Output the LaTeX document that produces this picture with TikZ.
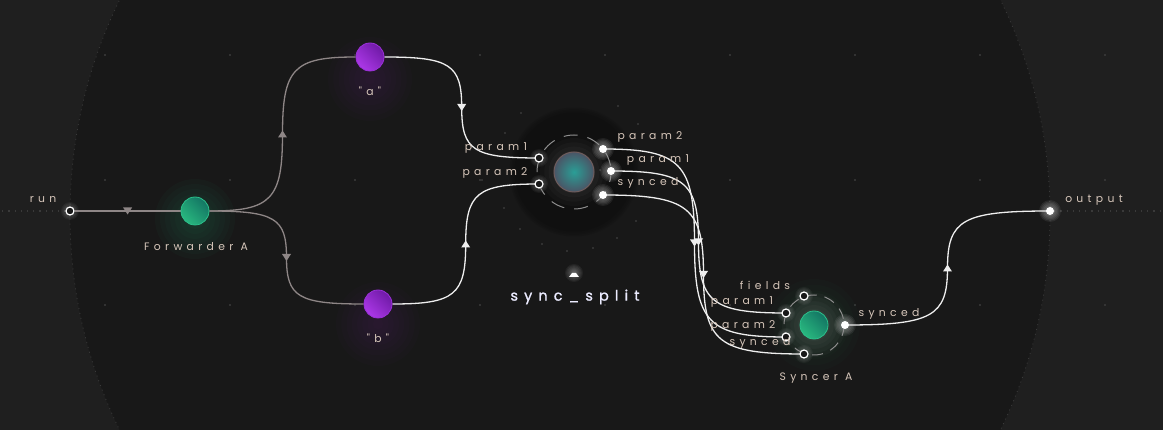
\documentclass[tikz,border=0pt]{standalone}
\usepackage{fontspec}
\setmainfont{Poppins}
\newfontfamily\lblfont[LetterSpace=40]{Poppins}
\newfontfamily\ttlfont[LetterSpace=42,FakeBold=1.2]{Poppins}
\usetikzlibrary{calc}
\pgfdeclarelayer{back}
\pgfdeclarelayer{wires}
\pgfsetlayers{back,wires,main}
\definecolor{bgout}{HTML}{1F1F1F}
\definecolor{bgin}{HTML}{181818}
\definecolor{dotc}{HTML}{3A3A3A}
\definecolor{gridc}{HTML}{3C3C3C}
\definecolor{wgray}{HTML}{8E8686}
\definecolor{wwhite}{HTML}{EEEEEE}
\definecolor{lblc}{HTML}{D6C6BA}
\definecolor{ringc}{HTML}{8E8E8E}
\definecolor{tealA}{HTML}{137563}
\definecolor{tealB}{HTML}{29B87F}
\definecolor{tealE}{HTML}{2CC08B}
\definecolor{purA}{HTML}{6F1AA6}
\definecolor{purB}{HTML}{AC38E8}
\definecolor{purE}{HTML}{9B30D9}
\definecolor{halo}{HTML}{101010}
\definecolor{sparkc}{HTML}{4A4A4A}
\definecolor{sphin}{HTML}{2A9E96}
\definecolor{sphout}{HTML}{4A5566}
\definecolor{sphedge}{HTML}{6E5C5C}
\newcommand{\myglow}[4]{\foreach \gr in {1,...,8}{\fill[#2,opacity=#4] (#1) circle ({#3*\gr/8});}}
\tikzset{
  lbl/.style={font=\lblfont\fontsize{10.8}{12}\selectfont, text=lblc, inner sep=0},
  ttl/.style={font=\ttlfont\fontsize{14.5}{16}\selectfont, text=white!92!blue, inner sep=0},
  portin/.style={circle, minimum size=8, inner sep=0, draw=white, line width=1.2, fill=bgin},
  portout/.style={circle, minimum size=8, inner sep=0, fill=white},
  flowteal/.style={circle, minimum size=28, inner sep=0, draw=tealE, line width=0.8, left color=tealA, right color=tealB, shading angle=-45},
  flowpur/.style={circle, minimum size=28, inner sep=0, draw=purE, line width=0.8, left color=purA, right color=purB, shading angle=-45},
  sphere/.style={circle, minimum size=40, inner sep=0, draw=sphedge, line width=1, inner color=sphin, outer color=sphout},
  wiregray/.style={draw=wgray, line width=1.3},
  wirewhite/.style={draw=wwhite, line width=1.3},
  wire/.style={to path={let \p1=(\tikztostart), \p2=(\tikztotarget), \p3=($(\tikztostart)!0.5!(\tikztotarget)$) in
     .. controls ($(\x1,\y1)!0.85!(\x3,\y1)$) and ($(\x3,\y3)!0.85!(\x3,\y1)$) .. (\x3,\y3)
     .. controls ($(\x3,\y3)!0.85!(\x3,\y2)$) and ($(\x2,\y2)!0.85!(\x3,\y2)$) .. (\x2,\y2)}},
  arrdn/.pic={\fill[#1] (-4.5,-3.5) -- (4.5,-3.5) -- (0,3.5) -- cycle;},
  arrup/.pic={\fill[#1] (-4.5,3.5) -- (4.5,3.5) -- (0,-3.5) -- cycle;},
}
\begin{document}
\begin{tikzpicture}[x=1pt,y=-1pt]
\useasboundingbox (0,0) rectangle (1163,430);
% ---------- nodes ----------
\node[portin] (run) at (70,211) {};
\node[flowteal] (fwd) at (195,211) {};
\node[flowpur] (a) at (370,57) {};
\node[flowpur] (b) at (378,304) {};
\node[sphere] (ss) at (574,172) {};
\node[portin] (ssi1) at (539,158) {};
\node[portin] (ssi2) at (539,184) {};
\node[portout] (sso2) at (603,149) {};
\node[portout] (sso1) at (611,171) {};
\node[portout] (ssos) at (603,195) {};
\node[flowteal] (sy) at (814,325) {};
\node[portin] (syf) at (804,296) {};
\node[portin] (syi1) at (786,313) {};
\node[portin] (syi2) at (786,337) {};
\node[portin] (syis) at (804,354) {};
\node[portout] (syo) at (845,325) {};
\node[portout] (out) at (1050,211) {};
\coordinate (leftend) at (0,211);
\coordinate (rightend) at (1163,211);
% labels
\node[lbl] (runl) at (43,200) {run};
\node[lbl] (outl) at (1094,200) {output};
\node[lbl] (fwdl) at (196,247) {Forwarder A};
\node[lbl] (al) at (370,91) {"a"};
\node[lbl] (bl) at (378,338) {"b"};
\node[lbl] (ssi1l) at (496,148) {param1};
\node[lbl] (ssi2l) at (495,173) {param2};
\node[lbl] (sso2l) at (650,137) {param2};
\node[lbl] (sso1l) at (658,160) {param1};
\node[lbl] (ssosl) at (648,183) {synced};
\node[ttl] (ssl) at (575,297) {sync\_split};
\node[lbl] (syfl) at (765,285) {fields};
\node[lbl] (syi1l) at (742,302) {param1};
\node[lbl] (syi2l) at (743,326) {param2};
\node[lbl] (syisl) at (760,343) {synced};
\node[lbl] (syl) at (816,378) {Syncer A};
\node[lbl] (syol) at (889,314) {synced};
% ---------- background ----------
\begin{pgfonlayer}{back}
\fill[bgout] (0,0) rectangle (1163,430);
\begin{scope}
\clip (0,0) rectangle (1163,430);
\fill[bgin] (560,215) circle (490);
\draw[dotc, line width=0.8, dash pattern=on 1pt off 4pt] (560,215) circle (490);
\end{scope}
\foreach \gx in {105,230,...,1105}{\foreach \gy in {55,180,305}{\fill[gridc] (\gx,\gy) circle (1.1);}}
\draw[dotc, line width=1.2, dash pattern=on 1.2pt off 5pt] (run.west) -- (leftend);
\draw[dotc, line width=1.2, dash pattern=on 1.2pt off 5pt] (out.east) -- (rightend);
% glows
\myglow{$(fwd)+(0,8)$}{tealB}{40}{0.03}
\myglow{$(a)+(0,22)$}{purB}{42}{0.014}
\myglow{$(b)+(0,20)$}{purB}{42}{0.014}
\myglow{sy}{tealB}{46}{0.02}
\myglow{sy}{white}{32}{0.025}
% sync_split halo
\fill[halo] (ss) circle (59);
\foreach \hr in {60,61.5,63,64.5}{\fill[halo,opacity=0.25] (ss) circle (\hr);}
\myglow{ss}{white}{34}{0.022}
\foreach \sx/\sy in {521/113,505/133,618/106,638/124,482/180,504/208,520/229,542/244,567/251,593/248,617/238,636/221,649/198,470/150,600/170}{\fill[sparkc] (\sx,\sy) circle (0.9);}
% port glows
\foreach \pn in {sso1,sso2,ssos,syo,out}{\myglow{\pn}{white}{11}{0.07}}
\foreach \pn in {run,ssi1,ssi2,syf,syi1,syi2,syis}{\myglow{\pn}{white}{9}{0.045}}
% rings
\draw[ringc, line width=1, dash pattern=on 14pt off 10pt, dash phase=4pt] (ss) circle (37);
\draw[ringc, line width=1, dash pattern=on 11pt off 8pt] (sy) circle (30);
\end{pgfonlayer}
% ---------- wires ----------
\begin{pgfonlayer}{wires}
\draw[wiregray] (run) -- (fwd);
\draw[wiregray] (fwd.east) to[wire] (a.west);
\draw[wiregray] (fwd.east) to[wire] (b.west);
\draw[wirewhite] (a.east) to[wire] (ssi1.center);
\draw[wirewhite] (b.east) to[wire] (ssi2.center);
\draw[wirewhite] (sso2.center) to[wire] (syi2.center);
\draw[wirewhite] (sso1.center) to[wire] (syi1.center);
\draw[wirewhite] (ssos.center) to[wire] (syis.center);
\draw[wirewhite] (syo.center) to[wire] (out.center);
\end{pgfonlayer}
% arrows
\pic at ($(run.east)!0.5!(fwd.west)$) {arrdn=wgray};
\pic at ($(fwd.east)!0.5!(a.west)$) {arrup=wgray};
\pic at ($(fwd.east)!0.5!(b.west)$) {arrdn=wgray};
\pic at ($(a.east)!0.5!(ssi1.center)$) {arrdn=wwhite};
\pic at ($(b.east)!0.5!(ssi2.center)$) {arrup=wwhite};
\pic at ($(sso2.center)!0.5!(syi2.center)$) {arrdn=wwhite};
\pic at ($(sso1.center)!0.5!(syi1.center)$) {arrdn=wwhite};
\pic at ($(ssos.center)!0.5!(syis.center)$) {arrdn=wwhite};
\pic at ($(syo.center)!0.5!(out.center)$) {arrup=wwhite};
% collapse marker under sync_split
\myglow{574,273}{white}{9}{0.05}
\fill[white] (569,277) -- (579,277) -- (576,273) -- (572,273) -- cycle;
\end{tikzpicture}
\end{document}
